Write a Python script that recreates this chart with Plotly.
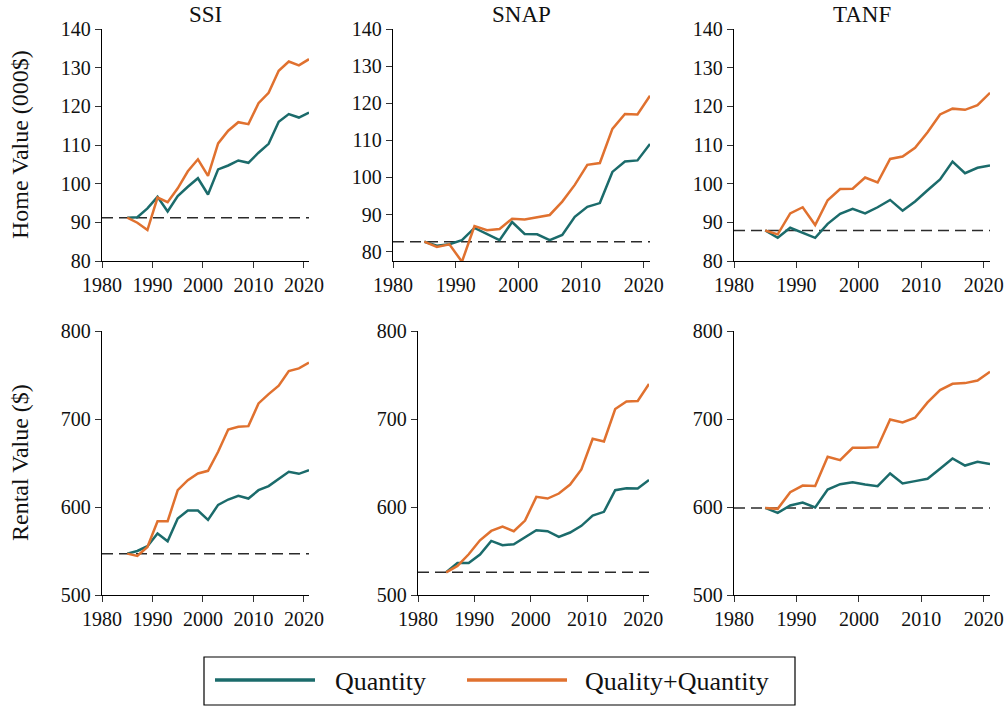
import plotly.graph_objects as go

# Survey years (biennial)
years = list(range(1985, 2022, 2))

# Home value (000$) by program
ssi_home_qty = [91.2, 91.3, 93.6, 96.6, 92.8, 96.8, 99.2, 101.4, 97.2, 103.7, 104.7, 106.0, 105.4, 108.0, 110.3, 116.0, 118.0, 117.1, 118.4]
ssi_home_qq = [91.2, 89.9, 88.0, 96.4, 95.2, 98.8, 103.2, 106.3, 102.0, 110.4, 113.7, 115.9, 115.4, 120.8, 123.5, 129.2, 131.6, 130.6, 132.2]
snap_home_qty = [82.7, 81.6, 82.0, 83.1, 86.4, 84.8, 83.1, 88.0, 84.8, 84.7, 83.1, 84.5, 89.4, 92.1, 93.1, 101.5, 104.3, 104.6, 109.0]
snap_home_qq = [82.7, 81.3, 82.0, 77.3, 86.9, 85.8, 86.1, 88.9, 88.7, 89.4, 89.9, 93.5, 98.0, 103.4, 103.9, 113.1, 117.1, 117.0, 122.0]
tanf_home_qty = [87.9, 86.0, 88.6, 87.2, 86.0, 89.6, 92.2, 93.5, 92.3, 93.9, 95.8, 93.0, 95.4, 98.3, 101.1, 105.7, 102.7, 104.1, 104.7]
tanf_home_qq = [87.9, 86.9, 92.3, 93.9, 89.3, 95.7, 98.6, 98.7, 101.6, 100.3, 106.4, 107.0, 109.3, 113.3, 117.9, 119.4, 119.1, 120.3, 123.5]

# Rental value ($) by program
ssi_rent_qty = [547, 550, 555.4, 569.8, 561, 586.9, 596, 596, 585.4, 602.4, 608.5, 612.7, 609.6, 619.1, 623.7, 631.6, 640, 637.7, 641.9]
ssi_rent_qq = [547, 544.4, 554.6, 583.8, 583.8, 619.1, 630.5, 638.1, 641.1, 662.7, 688.1, 691.2, 691.9, 717.7, 728.3, 737.8, 754.5, 757.5, 764]
snap_rent_qty = [525.8, 536.4, 536.4, 545.9, 561.5, 556.5, 557.7, 565.3, 573.6, 572.5, 566, 571, 578.6, 590.3, 594.5, 619.1, 621.4, 621, 630.8]
snap_rent_qq = [525.8, 533, 546.3, 562.2, 572.8, 577.8, 572.5, 584.6, 611.5, 609.6, 615.3, 625.5, 642.6, 677.5, 674.4, 711.3, 720, 720.4, 739.7]
tanf_rent_qty = [599, 593.3, 601.7, 605.1, 599.4, 619.9, 625.9, 628.2, 625.6, 623.7, 638.1, 626.7, 629.4, 632, 643.4, 655.1, 647.1, 651.3, 648.7]
tanf_rent_qq = [599, 597.9, 616.8, 624.4, 624, 657, 653.2, 667.3, 667.3, 668, 699.5, 696, 701.4, 718.8, 732.9, 740, 740.8, 743.8, 753.7]

programs = ["SSI", "SNAP", "TANF"]
row_titles = ["Home Value (000$)", "Rental Value ($)"]
series_names = ["Quantity", "Quality+Quantity"]
x_ticks = [1980, 1990, 2000, 2010, 2020]
home_ticks = [80, 90, 100, 110, 120, 130, 140]
rent_ticks = [500, 600, 700, 800]

TEAL = "#1b6b6b"
ORANGE = "#e0712f"
FONT = "Liberation Serif"
W, H = 1004, 707


def px(x):
    return x / W


def py(y):
    return 1 - y / H


# panel geometry in pixels: (left, right, top, bottom)
panels = [
    dict(qty=ssi_home_qty, qq=ssi_home_qq, box=(102, 309, 29, 261), yr=[80, 140], ticks=home_ticks),
    dict(qty=snap_home_qty, qq=snap_home_qq, box=(393, 650, 29, 261), yr=[77.5, 140], ticks=home_ticks),
    dict(qty=tanf_home_qty, qq=tanf_home_qq, box=(734, 990, 29, 261), yr=[80, 140], ticks=home_ticks),
    dict(qty=ssi_rent_qty, qq=ssi_rent_qq, box=(102, 309, 331, 595), yr=[500, 800], ticks=rent_ticks),
    dict(qty=snap_rent_qty, qq=snap_rent_qq, box=(418, 649, 331, 595), yr=[500, 800], ticks=rent_ticks),
    dict(qty=tanf_rent_qty, qq=tanf_rent_qq, box=(734, 990, 331, 595), yr=[500, 800], ticks=rent_ticks),
]

fig = go.Figure()
layout_axes = {}
for i, p in enumerate(panels, start=1):
    xa = "x" if i == 1 else f"x{i}"
    ya = "y" if i == 1 else f"y{i}"
    base = p["qty"][0]
    # reference level at the 1985 value
    fig.add_trace(go.Scatter(x=[1980, 2021], y=[base, base], xaxis=xa, yaxis=ya, mode="lines",
                             line=dict(color="#2b2b2b", width=1.5, dash="11px,6px"),
                             showlegend=False, hoverinfo="skip"))
    fig.add_trace(go.Scatter(x=years, y=p["qty"], xaxis=xa, yaxis=ya, mode="lines",
                             name=series_names[0], line=dict(color=TEAL, width=2.5),
                             showlegend=False))
    fig.add_trace(go.Scatter(x=years, y=p["qq"], xaxis=xa, yaxis=ya, mode="lines",
                             name=series_names[1], line=dict(color=ORANGE, width=2.5),
                             showlegend=False))
    l, r, t, b = p["box"]
    axis_common = dict(showline=True, linecolor="black", linewidth=1.3, ticks="outside",
                       ticklen=6, tickwidth=1.3, tickcolor="#333333", showgrid=False,
                       zeroline=False, automargin=False,
                       tickfont=dict(family=FONT, size=20, color="#111111"))
    layout_axes["xaxis" if i == 1 else f"xaxis{i}"] = dict(
        domain=[px(l), px(r)], range=[1980, 2021], tickvals=x_ticks,
        anchor=ya, **axis_common)
    layout_axes["yaxis" if i == 1 else f"yaxis{i}"] = dict(
        domain=[py(b), py(t)], range=p["yr"], tickvals=p["ticks"],
        anchor=xa, **axis_common)

annotations = []
# column titles
for name, (l, r) in zip(programs, [(102, 309), (393, 650), (734, 990)]):
    annotations.append(dict(text=name, x=px((l + r) / 2), y=py(14), xref="paper", yref="paper",
                            xanchor="center", yanchor="middle", showarrow=False,
                            font=dict(family=FONT, size=23, color="#111111")))
# row titles
for title, yc in zip(row_titles, [145, 463]):
    annotations.append(dict(text=title, x=px(20), y=py(yc), xref="paper", yref="paper",
                            xanchor="center", yanchor="middle", textangle=-90, showarrow=False,
                            font=dict(family=FONT, size=24, color="#111111")))

# legend box
shapes = [
    dict(type="rect", xref="paper", yref="paper", x0=px(204), x1=px(795), y0=py(705), y1=py(657),
         line=dict(color="black", width=1.2), fillcolor="white"),
    dict(type="line", xref="paper", yref="paper", x0=px(215), x1=px(315), y0=py(680), y1=py(680),
         line=dict(color=TEAL, width=3.5)),
    dict(type="line", xref="paper", yref="paper", x0=px(467), x1=px(567), y0=py(680), y1=py(680),
         line=dict(color=ORANGE, width=3.5)),
]
for name, x0 in zip(series_names, [333, 583]):
    annotations.append(dict(text=name, x=px(x0), y=py(681), xref="paper", yref="paper",
                            xanchor="left", yanchor="middle", showarrow=False,
                            font=dict(family=FONT, size=26, color="#111111")))

fig.update_layout(
    width=W, height=H, margin=dict(l=0, r=0, t=0, b=0),
    paper_bgcolor="white", plot_bgcolor="white", template="none",
    font=dict(family=FONT),
    showlegend=False, annotations=annotations, shapes=shapes,
    **layout_axes,
)

fig.write_html("out.html")
